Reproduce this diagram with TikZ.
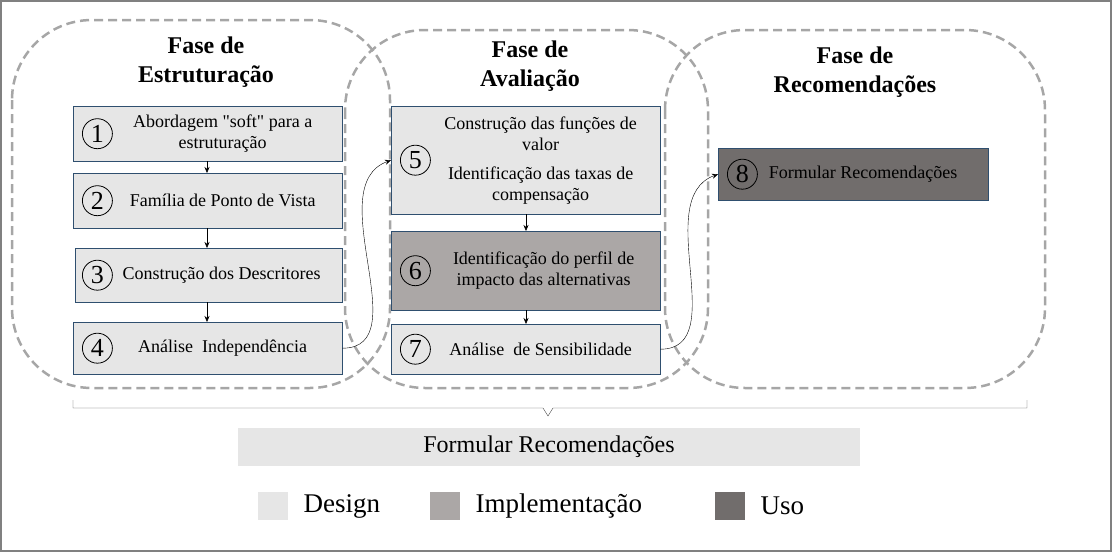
\documentclass[tikz,border=0pt]{standalone}
\usepackage{fontspec}
\setmainfont{Liberation Serif}
\newfontfamily\plainserif[Ligatures=ResetAll]{Liberation Serif}
\usetikzlibrary{positioning,arrows.meta}
\definecolor{design}{HTML}{E6E6E6}
\definecolor{impl}{HTML}{ABA7A6}
\definecolor{uso}{HTML}{716D6C}
\definecolor{borda}{HTML}{2F4F6F}
\tikzset{
  etapa/.style={draw=borda,fill=design,minimum width=269pt,anchor=north west,inner sep=0pt,
    align=center,font=\fontsize{18}{21}\selectfont},
  numero/.style={draw,circle,thick,minimum size=30pt,inner sep=0pt,font=\fontsize{26}{26}\selectfont},
  fase/.style={draw=gray!70,dashed,line width=2.5pt,dash pattern=on 9pt off 5pt,rounded corners=80pt},
  titulo/.style={font=\fontsize{24}{29}\selectfont\bfseries,align=center},
  seta/.style={-{Stealth[length=6pt,width=5pt]}},
  legenda/.style={font=\fontsize{27}{27}\selectfont,anchor=west}
}
\begin{document}
\begin{tikzpicture}[x=1pt,y=-1pt]
  \useasboundingbox (0,0) rectangle (1112,552);
  \draw[gray,line width=2pt] (1,1) rectangle (1111,551);

  % fases
  \draw[fase] (12,20) rectangle (390,388);
  \draw[fase] (345,30) rectangle (708,388);
  \draw[fase] (665,30) rectangle (1045,388);
  \node[titulo] (t1) at (206,62) {Fase de\\Estruturação};
  \node[titulo] (t2) at (530,66) {Fase de\\Avaliação};
  \node[titulo] (t3) at (855,72) {Fase de\\Recomendações};

  % estruturacao
  \node[etapa,minimum height=55pt] (b1) at (73,106) {\hspace*{30pt}Abordagem {\plainserif"}soft{\plainserif"} para a\\\hspace*{30pt}estruturação};
  \node[etapa,minimum height=55pt] (b2) at (73,173) {\hspace*{30pt}Família de Ponto de Vista};
  \node[etapa,minimum width=267pt,minimum height=54pt] (b3) at (75,248) {\hspace*{26pt}Construção dos Descritores};
  \node[etapa,minimum height=52pt] (b4) at (73,322) {\hspace*{30pt}Análise~ Independência};
  \node[numero,right=9pt of b1.west] (n1) {1};
  \node[numero,right=9pt of b2.west] (n2) {2};
  \node[numero,right=7pt of b3.west] (n3) {3};
  \node[numero,right=9pt of b4.west] (n4) {4};

  % avaliacao
  \node[etapa,minimum height=108pt] (b5) at (391,106) {\hspace*{30pt}Construção das funções de\\\hspace*{30pt}valor\\[8pt]\hspace*{30pt}Identificação das taxas de\\\hspace*{30pt}compensação};
  \node[etapa,minimum height=79pt,fill=impl] (b6) at (391,231) {\hspace*{36pt}Identificação do perfil de\\\hspace*{36pt}impacto das alternativas};
  \node[etapa,minimum height=50pt] (b7) at (391,324) {\hspace*{30pt}Análise~ de Sensibilidade};
  \node[numero,right=9pt of b5.west] (n5) {5};
  \node[numero,right=9pt of b6.west] (n6) {6};
  \node[numero,right=9pt of b7.west] (n7) {7};

  % recomendacoes
  \node[etapa,minimum width=270pt,minimum height=52pt,fill=uso] (b8) at (718,148) {\hspace*{20pt}Formular Recomendações};
  \node[numero,right=9pt of b8.west] (n8) {8};

  % conexoes
  \draw[seta] (b1.south -| 207,0) -- (b2.north -| 207,0);
  \draw[seta] (b2.south -| 207,0) -- (b3.north -| 207,0);
  \draw[seta] (b3.south -| 207,0) -- (b4.north -| 207,0);
  \draw[seta] (b5.south -| 526,0) -- (b6.north -| 526,0);
  \draw[seta] (b6.south -| 526,0) -- (b7.north -| 526,0);
  \draw[seta] (b4.east) to[out=0,in=200] (b5.west);
  \draw[seta] (b7.east) to[out=0,in=200] (b8.west);

  % chave
  \coordinate (c1) at (73,400);
  \coordinate (c2) at (1027,400);
  \draw[gray!60!black] (c1) -- ++(0,8) -- (543,408) -- (548,416) -- (553,408) -- (1027,408) -- (c2);

  \node[fill=design,minimum width=622pt,minimum height=38pt,font=\fontsize{24}{24}\selectfont] (rec) at (549,447) {Formular Recomendações};

  % legenda
  \node[fill=design,minimum width=30pt,minimum height=28pt] (l1) at (273,506) {};
  \node[legenda,right=12pt of l1] (d1) {Design};
  \node[fill=impl,minimum width=30pt,minimum height=28pt] (l2) at (445,506) {};
  \node[legenda,right=12pt of l2] (d2) {Implementação};
  \node[fill=uso,minimum width=30pt,minimum height=28pt] (l3) at (730,506) {};
  \node[legenda,right=12pt of l3] (d3) {Uso};
\end{tikzpicture}
\end{document}
